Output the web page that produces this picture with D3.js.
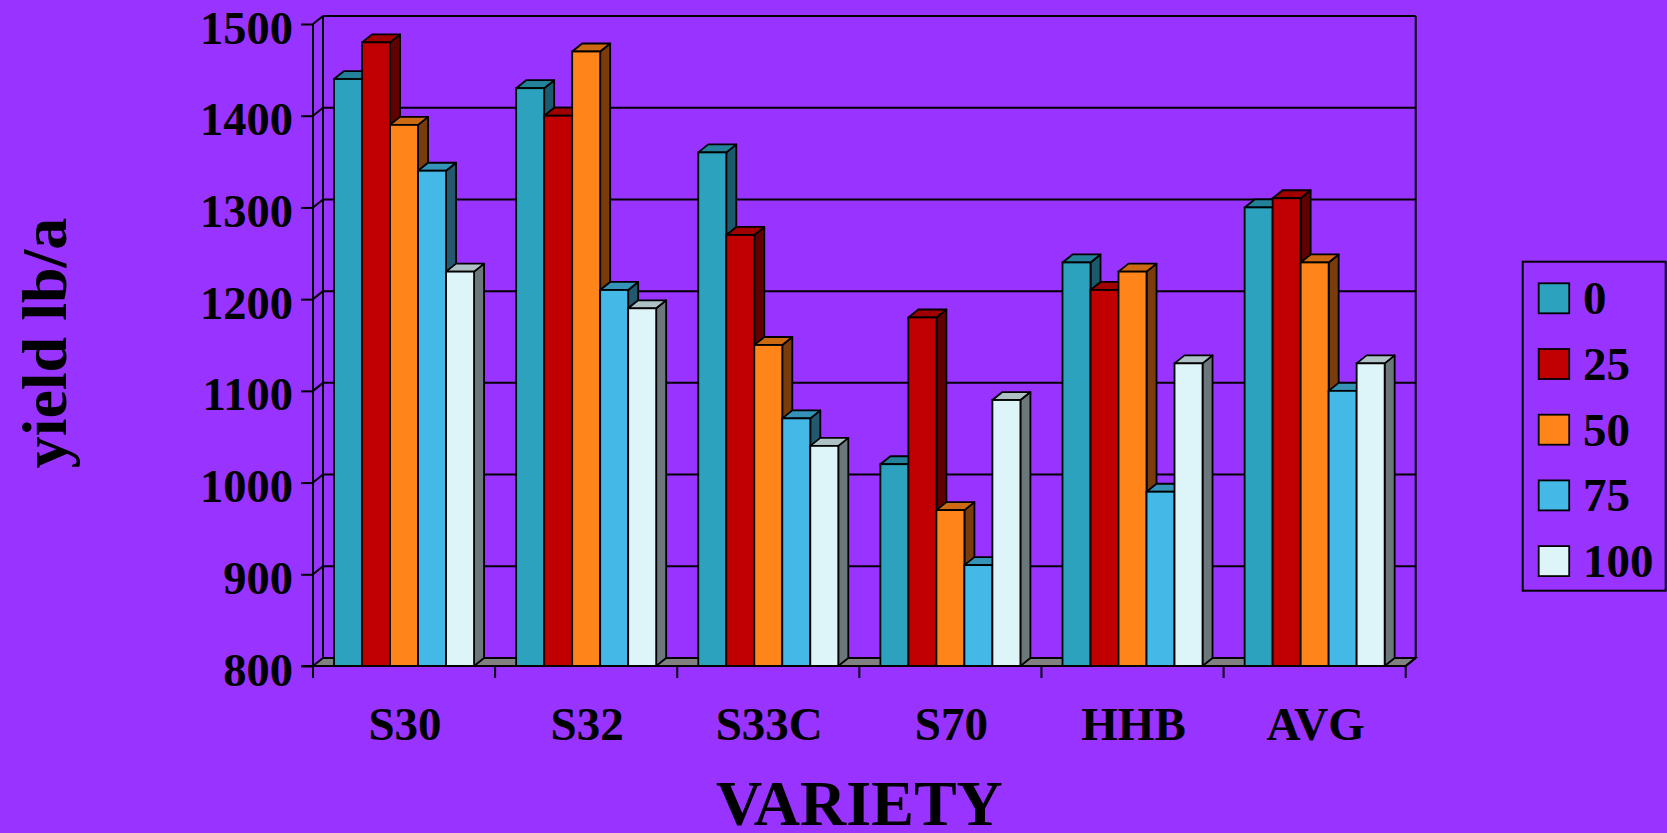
<!DOCTYPE html>
<html>
<head>
<meta charset="utf-8">
<script src="https://cdn.jsdelivr.net/npm/d3@7"></script>
<style>
html,body{margin:0;padding:0;background:#9933FF;}
svg{display:block;}
text{font-family:"Liberation Serif","Times New Roman",serif;font-weight:bold;fill:#000;}
</style>
</head>
<body>
<svg id="chart" width="1667" height="833"></svg>
<script>
const categories = ["S30","S32","S33C","S70","HHB","AVG"];
const seriesNames = ["0","25","50","75","100"];
const s0   = [1440,1430,1360,1020,1240,1300];
const s25  = [1480,1400,1270,1180,1210,1310];
const s50  = [1390,1470,1150, 970,1230,1240];
const s75  = [1340,1210,1070, 910, 990,1100];
const s100 = [1230,1190,1040,1090,1130,1130];
const yTicks = [800,900,1000,1100,1200,1300,1400,1500];

const seriesValues = [s0,s25,s50,s75,s100];
const frontColors = ["#2CA2BE","#C00000","#FF8419","#44B8E6","#DDF4F8"];
const topColors   = ["#23829A","#A00000","#CC6A14","#3693B8","#AEC1C5"];
const sideColors  = ["#1B5A6C","#600000","#7A3C0A","#22596F","#6B777A"];

const svg = d3.select("#chart");
const DX = 10, DY = -8;
const x0L = 313, x1R = 1405.7;
const y = d3.scaleLinear().domain([800,1500]).range([666,24]);
const p = 0.2312;
const x = d3.scaleBand().domain(categories).range([x0L,x1R]).paddingInner(p).paddingOuter(p/2);
const xs = d3.scaleBand().domain(seriesNames).range([0,x.bandwidth()]);

const base = y(800);
const gStroke = "#000";

// back wall (no fill) with gridlines
const back = svg.append("g");
yTicks.forEach(t=>{
  if(t===800) return;
  back.append("line").attr("x1",x0L+DX).attr("x2",x1R+DX).attr("y1",y(t)+DY).attr("y2",y(t)+DY)
    .attr("stroke",gStroke).attr("stroke-width",2);
  back.append("line").attr("x1",x0L).attr("x2",x0L+DX).attr("y1",y(t)).attr("y2",y(t)+DY)
    .attr("stroke",gStroke).attr("stroke-width",2);
});
back.append("line").attr("x1",x0L+DX).attr("x2",x0L+DX).attr("y1",y(1500)+DY).attr("y2",base+DY).attr("stroke",gStroke).attr("stroke-width",2);
back.append("line").attr("x1",x1R+DX).attr("x2",x1R+DX).attr("y1",y(1500)+DY).attr("y2",base+DY).attr("stroke",gStroke).attr("stroke-width",2);

// floor
svg.append("polygon")
  .attr("points",[[x0L,base],[x0L+DX,base+DY],[x1R+DX,base+DY],[x1R,base]].map(d=>d.join(",")).join(" "))
  .attr("fill","#808080").attr("stroke",gStroke).attr("stroke-width",1.8);

// bars
const bars = svg.append("g");
categories.forEach((c,ci)=>{
  seriesNames.forEach((s,si)=>{
    const v = seriesValues[si][ci];
    const bx0 = x(c)+xs(s), bx1 = bx0+xs.bandwidth();
    const yt = y(v);
    const g = bars.append("g");
    g.append("polygon").attr("points",[[bx1,yt],[bx1+DX,yt+DY],[bx1+DX,base+DY],[bx1,base]].map(d=>d.join(",")).join(" "))
      .attr("fill",sideColors[si]).attr("stroke",gStroke).attr("stroke-width",1.8).attr("stroke-linejoin","round");
    g.append("polygon").attr("points",[[bx0,yt],[bx0+DX,yt+DY],[bx1+DX,yt+DY],[bx1,yt]].map(d=>d.join(",")).join(" "))
      .attr("fill",topColors[si]).attr("stroke",gStroke).attr("stroke-width",1.8).attr("stroke-linejoin","round");
    g.append("rect").attr("x",bx0).attr("y",yt).attr("width",bx1-bx0).attr("height",base-yt)
      .attr("fill",frontColors[si]).attr("stroke",gStroke).attr("stroke-width",1.8);
  });
});

// front axes
svg.append("line").attr("x1",x0L).attr("x2",x0L).attr("y1",y(1500)).attr("y2",base+12).attr("stroke",gStroke).attr("stroke-width",2);
svg.append("line").attr("x1",x0L-12).attr("x2",x1R).attr("y1",base).attr("y2",base).attr("stroke",gStroke).attr("stroke-width",2);
svg.append("line").attr("x1",x1R).attr("x2",x1R+DX).attr("y1",base).attr("y2",base+DY).attr("stroke",gStroke).attr("stroke-width",2);

// y axis
const yAxis = d3.axisLeft(y).tickValues(yTicks).tickSizeInner(12).tickSizeOuter(0).tickPadding(8).tickFormat(d3.format("d"));
const ya = svg.append("g").attr("transform",`translate(${x0L},0)`).call(yAxis);
ya.select(".domain").remove();
ya.selectAll("line").attr("stroke",gStroke).attr("stroke-width",2);
ya.selectAll("text").attr("dy",null).attr("dominant-baseline","alphabetic").attr("transform","translate(0,19)")
  .style("font-size","46.5px").style("font-family","Liberation Serif, serif").style("font-weight","bold").attr("fill","#000");

// x ticks at band boundaries
d3.range(categories.length+1).forEach(i=>{
  const bx = x0L + i*x.step();
  svg.append("line").attr("x1",bx).attr("x2",bx).attr("y1",base).attr("y2",base+12).attr("stroke",gStroke).attr("stroke-width",2);
});
// category labels
svg.append("g").selectAll("text").data(categories).join("text")
  .attr("x",d=>x(d)+x.bandwidth()/2+1).attr("y",740).attr("text-anchor","middle")
  .style("font-size","47px").text(d=>d);

// axis titles
svg.append("text").attr("x",(x0L+x1R)/2).attr("y",825).attr("text-anchor","middle").style("font-size","64px").text("VARIETY");
svg.append("text").attr("transform","translate(66,343) rotate(-90)").attr("text-anchor","middle").style("font-size","64px").text("yield lb/a");

// legend
const lg = svg.append("g");
lg.append("rect").attr("x",1522.7).attr("y",261.7).attr("width",143).attr("height",329).attr("fill","none").attr("stroke",gStroke).attr("stroke-width",2);
seriesNames.forEach((s,i)=>{
  const yy = 283.3 + i*65.7;
  lg.append("rect").attr("x",1538.7).attr("y",yy).attr("width",30.5).attr("height",30).attr("fill",frontColors[i]).attr("stroke",gStroke).attr("stroke-width",1.8);
  lg.append("text").attr("x",1583).attr("y",yy+31).style("font-size","47px").text(s);
});
</script>
</body>
</html>
